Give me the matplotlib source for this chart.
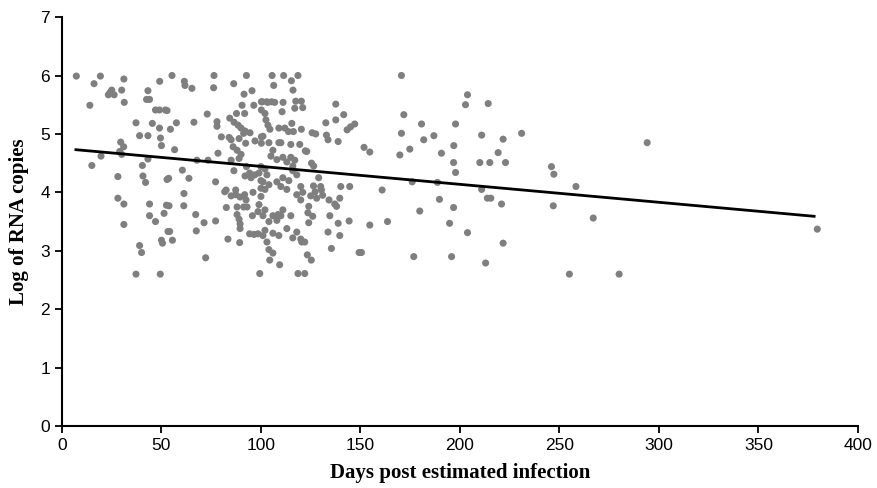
import numpy as np
import matplotlib
matplotlib.use('Agg')
import matplotlib.pyplot as plt

# points (days, log copies)
days_a = [7.2, 19.3, 16.1, 31.1, 23.3, 25, 26.2, 24.2, 30, 31.3, 14, 49.1, 43.2, 42.5, 44, 47, 49, 52,
          37.2, 45.4, 49, 49.5, 50, 39, 43.2, 29.5, 31, 29, 30, 19.6, 15, 40.4, 43.2, 28.1, 40.7, 42,
          52.8, 28.1, 31.1, 44, 52.5, 44, 47, 51.3, 31.1, 53.3, 50, 50.5, 39, 40, 37.2, 49.4]
logs_a = [5.99, 5.99, 5.86, 5.94, 5.67, 5.75, 5.67, 5.71, 5.75, 5.54, 5.49, 5.90, 5.74, 5.59, 5.59, 5.41, 5.41, 5.41,
          5.19, 5.18, 5.10, 4.93, 4.80, 4.97, 4.97, 4.86, 4.78, 4.70, 4.65, 4.62, 4.46, 4.46, 4.57, 4.27, 4.28, 4.17,
          4.22, 3.90, 3.80, 3.80, 3.78, 3.60, 3.50, 3.64, 3.45, 3.33, 3.18, 3.13, 3.09, 2.97, 2.60, 2.60]

days_b = [55.3, 61.5, 61.8, 65.3, 76.4, 76.2, 86.3, 92.7, 91.5, 95.5, 52.8, 73, 90.5, 96.4, 100.2, 100.2,
          87.7, 91.8, 84.3, 57.5, 66.3, 54.5, 77.9, 77.9, 86.5, 88.5, 90, 92, 94.5, 80.1, 84, 85, 89, 91.3,
          92.3, 97, 100.2, 100.2, 86, 88, 90, 89, 85, 78.4, 56.6, 67.8, 73.4, 86.4, 92.7, 94.3, 96.9, 100,
          99, 100, 53.6, 60.5, 63.8, 77.2, 81.8, 87.3, 87.3, 91.8, 92.5, 96, 100, 100, 82.5, 85, 89.5,
          61.3, 53.8, 61.2, 82.6, 88, 88, 89, 91.3, 93, 95.7, 99, 98.5, 67.2, 71.4, 77.2, 89.5, 89.5,
          67.5, 54.1, 55.5, 83.4, 89.3, 94.3, 96.5, 98.5, 72.2, 99.4, 92, 95]
logs_b = [6.0, 5.90, 5.83, 5.78, 6.0, 5.79, 5.86, 6.0, 5.68, 5.74, 5.40, 5.34, 5.49, 5.49, 5.55, 5.41,
          5.35, 5.35, 5.27, 5.19, 5.20, 5.08, 5.21, 5.13, 5.20, 5.15, 5.10, 5.05, 5.02, 4.95, 4.94, 4.90, 4.92, 5.01,
          4.84, 4.88, 4.95, 4.84, 4.78, 4.72, 4.65, 4.58, 4.55, 4.67, 4.73, 4.55, 4.55, 4.37, 4.44, 4.33, 4.30, 4.44,
          4.33, 4.20, 4.24, 4.38, 4.24, 4.18, 4.01, 4.04, 3.96, 3.96, 3.87, 4.00, 4.07, 3.93, 4.04, 3.94, 3.92,
          3.98, 3.77, 3.77, 3.74, 3.75, 3.62, 3.54, 3.75, 3.75, 3.60, 3.79, 3.67, 3.62, 3.48, 3.51, 3.46, 3.38,
          3.34, 3.33, 3.18, 3.20, 3.14, 3.29, 3.28, 3.29, 2.88, 2.61, 4.28, 4.25]

days_c = [105.6, 111.4, 118.6, 106.4, 115.3, 116.1, 103.5, 106.9, 111.1, 117.5, 120.3, 110.6, 117, 102, 102.5,
          103.5, 104.5, 115.5, 113.8, 116.3, 120.3, 109, 125.7, 127.5, 137.6, 132.6, 137.6, 141.6, 132.9, 133.7,
          138.8, 143.3, 145, 119.5, 122.3, 101, 104, 106, 105, 108, 110, 115, 115, 117, 116, 116, 125.4, 126.5,
          102, 103, 101, 104, 108, 110, 113, 102, 118, 120, 121, 118, 120, 126.4, 127.2, 130.4, 140.1, 144.6,
          134.2, 137.1, 139.6, 138, 125, 124, 123.6, 126, 124, 102, 101, 106, 108, 104, 111, 110, 115, 108.6,
          134.6, 138.8, 144.3, 133.7, 139.6, 102, 106, 101, 109, 113, 118, 116, 120, 120.5, 122, 103, 104, 106,
          135.4, 123.3, 125.3, 109.4, 104.4, 118.6, 122, 149.3, 111, 114, 129, 130, 128, 131, 121, 112, 123,
          109, 111, 113, 100.7, 102.9, 105.4]
logs_c = [6.0, 6.0, 6.0, 5.83, 5.91, 5.75, 5.54, 5.54, 5.54, 5.56, 5.56, 5.38, 5.44, 5.35, 5.24,
          5.15, 5.08, 5.18, 5.04, 5.04, 5.08, 5.10, 5.02, 5.00, 5.51, 5.19, 5.24, 5.33, 4.98, 4.90,
          4.87, 5.07, 5.12, 4.82, 4.71, 4.96, 4.85, 4.72, 4.62, 4.56, 4.85, 4.82, 4.60, 4.55, 4.45, 4.37, 4.50, 4.45,
          4.40, 4.30, 4.18, 4.13, 4.18, 4.10, 4.05, 4.05, 4.30, 4.10, 4.00, 3.96, 3.87, 4.11, 4.01, 4.04, 4.10, 4.10,
          3.87, 3.80, 3.90, 3.76, 3.94, 3.76, 3.65, 3.59, 3.48, 3.70, 3.60, 3.60, 3.52, 3.50, 3.70, 3.60, 3.60, 3.62,
          3.60, 3.47, 3.51, 3.32, 3.26, 3.35, 3.30, 3.26, 3.26, 3.38, 3.32, 3.22, 3.20, 3.15, 3.15, 3.15, 3.02, 2.96,
          3.04, 2.93, 2.84, 2.76, 2.84, 2.61, 2.61, 2.97, 4.25, 4.20, 4.25, 4.10, 3.90, 3.95, 5.45, 5.10, 4.70,
          4.85, 4.60, 4.52, 5.55, 5.55, 5.55]

days_d = [147.1, 170.6, 203.8, 202.8, 171.8, 170.6, 180.7, 181.8, 186.9, 197.8, 151.8, 154.7, 174.8, 169.8,
          190.7, 196.9, 196.8, 197.8, 176, 188.7, 160.9, 189.7, 196.8, 179.8, 154.7, 163.6, 194.8, 203.8, 150.5,
          176.8, 195.8, 214.2, 210.9, 221.7, 231, 219.2, 210, 215, 222.9, 246, 247.2, 294.1, 258.3, 210.9, 213.8,
          215.5, 220.9, 246.9, 267, 221.7, 212.9, 255, 280, 379.6]
logs_d = [5.17, 6.0, 5.67, 5.50, 5.33, 5.01, 5.17, 4.90, 4.97, 5.17, 4.77, 4.69, 4.74, 4.64,
          4.67, 4.80, 4.51, 4.34, 4.18, 4.17, 4.04, 3.88, 3.74, 3.68, 3.44, 3.50, 3.47, 3.31, 2.97,
          2.90, 2.90, 5.52, 4.98, 4.91, 5.01, 4.68, 4.51, 4.51, 4.51, 4.44, 4.31, 4.85, 4.10, 4.05, 3.90,
          3.90, 3.80, 3.77, 3.56, 3.13, 2.79, 2.60, 2.60, 3.37]

# trend line end points
trend_x = [7, 378]
trend_y = [4.73, 3.59]

days = days_a + days_b + days_c + days_d
logs = logs_a + logs_b + logs_c + logs_d

fig = plt.figure(figsize=(8.78, 4.88), dpi=100)
ax = fig.add_axes([0.0706, 0.127, 0.9065, 0.838])

ax.scatter(days, logs, s=26, color='#7f7f7f', edgecolors='none', zorder=2)
ax.plot(trend_x, trend_y, color='black', linewidth=2, zorder=3)

ax.set_xlim(0, 400)
ax.set_ylim(0, 7)
ax.set_xticks(np.arange(0, 401, 50))
ax.set_yticks(np.arange(0, 8, 1))
for s in ['top', 'right']:
    ax.spines[s].set_visible(False)
for s in ['left', 'bottom']:
    ax.spines[s].set_linewidth(1.5)
ax.tick_params(direction='out', length=5, width=1.3, labelsize=12.5)
for lab in ax.get_xticklabels() + ax.get_yticklabels():
    lab.set_family('Liberation Sans')

ax.set_xlabel('Days post estimated infection', family='Liberation Serif', fontweight='bold',
              fontsize=15, labelpad=7)
ax.set_ylabel('Log of RNA copies', family='Liberation Serif', fontweight='bold',
              fontsize=15, labelpad=8)

fig.savefig('out.png', dpi=100)
